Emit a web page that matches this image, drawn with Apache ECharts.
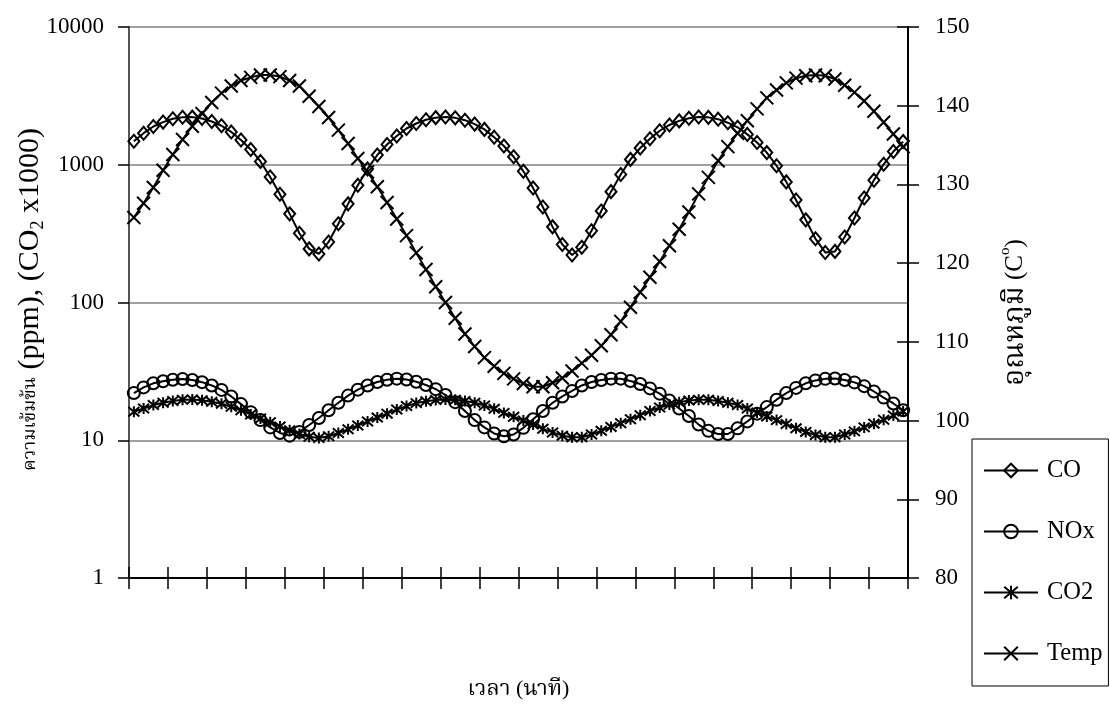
<!DOCTYPE html>
<html>
<head>
<meta charset="utf-8">
<script src="https://cdn.jsdelivr.net/npm/echarts@6/dist/echarts.min.js"></script>
<style>
  html, body { margin: 0; padding: 0; background: #fff; }
  #chart { width: 1110px; height: 707px; }
</style>
</head>
<body>
<div id="chart"></div>
<script>
// Sampling instants (minutes)
const minutes = ["1","2","3","4","5","6","7","8","9","10","11","12","13","14","15","16","17","18","19","20",
  "21","22","23","24","25","26","27","28","29","30","31","32","33","34","35","36","37","38","39","40",
  "41","42","43","44","45","46","47","48","49","50","51","52","53","54","55","56","57","58","59","60",
  "61","62","63","64","65","66","67","68","69","70","71","72","73","74","75","76","77","78","79","80"];

// CO concentration, ppm
const coValues = [1483,1695,1895,2040,2155,2213,2217,2166,2061,1920,
  1730,1513,1291,1057,816,610,440,318,245,225,
  275,373,520,709,933,1178,1404,1618,1833,1993,
  2122,2198,2222,2190,2106,1973,1806,1586,1369,1143,
  896,677,494,354,264,221,252,332,462,638,
  849,1094,1323,1544,1765,1944,2082,2178,2220,2208,
  2143,2019,1870,1661,1451,1225,983,751,555,398,
  290,231,235,299,411,573,773,1008,1248,1473];

// NOx concentration, ppm
const noxValues = [22.0,24.2,25.9,26.8,27.5,27.8,27.4,26.4,25.0,23.2,
  20.8,18.3,16.0,14.0,12.4,11.3,10.8,11.5,12.9,14.5,
  16.5,18.7,21.1,23.3,25.0,26.5,27.5,28.0,27.6,26.6,
  25.2,23.5,21.3,18.9,16.3,14.0,12.4,11.2,10.7,11.0,
  12.3,14.2,16.3,18.7,20.8,22.8,25.0,26.5,27.4,28.0,
  28.0,26.9,25.6,23.8,21.8,19.4,17.0,15.0,13.0,11.7,
  11.1,11.1,12.2,13.7,15.6,17.4,19.7,22.0,24.0,25.9,
  27.2,27.9,28.1,27.4,26.3,24.7,22.6,20.4,18.5,16.5];

// CO2 concentration (x1000)
const co2Values = [16.1,17.0,18.0,18.7,19.3,19.7,19.8,19.5,19.0,18.4,
  17.5,16.5,15.4,14.4,13.5,12.6,11.8,11.1,10.6,10.4,
  10.7,11.3,12.0,12.8,13.7,14.6,15.6,16.7,17.7,18.6,
  19.2,19.6,19.8,19.7,19.3,18.7,17.9,16.9,15.8,14.8,
  13.9,13.0,12.1,11.4,10.8,10.5,10.5,11.0,11.7,12.5,
  13.3,14.2,15.2,16.3,17.3,18.2,18.9,19.4,19.7,19.7,
  19.3,18.7,18.0,17.0,15.9,14.9,14.0,13.1,12.2,11.5,
  10.9,10.5,10.5,11.0,11.6,12.4,13.2,14.1,15.1,16.2];

// Temperature, deg C
const tempValues = [125.8,127.6,129.6,131.8,133.8,135.7,137.4,139.0,140.4,141.6,
  142.5,143.2,143.6,143.9,143.9,143.7,143.2,142.5,141.2,139.9,
  138.5,136.9,135.2,133.3,131.6,129.7,127.7,125.6,123.5,121.3,
  119.2,117.0,115.0,113.0,111.0,109.4,108.0,106.9,106.0,105.3,
  104.7,104.3,104.3,104.8,105.4,106.3,107.3,108.3,109.5,110.9,
  112.6,114.4,116.3,118.2,120.2,122.2,124.3,126.5,128.8,130.9,
  133.0,134.8,136.5,138.1,139.6,141.0,142.0,142.9,143.5,143.8,
  143.9,143.8,143.4,142.6,141.7,140.6,139.3,137.9,136.4,134.8];

const seriesNames = ["CO", "NOx", "CO2", "Temp"];
const concTicks = [1, 10, 100, 1000, 10000];
const tempTicks = [80, 90, 100, 110, 120, 130, 140, 150];

const FONT = '"Liberation Serif", "Times New Roman", "Noto Serif Thai", "Noto Sans Thai", serif';
const INK = '#000';

const SYM_CROSS = 'path://M0,0L10,10M10,0L0,10';
const SYM_STAR = 'path://M5,0L5,10M0.7,0.7L9.3,9.3M9.3,0.7L0.7,9.3';

function makeLine(name, data, symbol, size, yAxisIndex) {
  return {
    name: name,
    type: 'line',
    data: data,
    xAxisIndex: 0,
    yAxisIndex: yAxisIndex,
    symbol: symbol,
    symbolSize: size,
    showAllSymbol: true,
    lineStyle: { color: INK, width: 2 },
    itemStyle: { color: 'rgba(255,255,255,0)', borderColor: INK, borderWidth: 2 },
    emphasis: { disabled: true },
    silent: true
  };
}

const chart = echarts.init(document.getElementById('chart'), null, { renderer: 'canvas' });

chart.setOption({
  animation: false,
  backgroundColor: '#fff',
  grid: { left: 129, right: 202, top: 27, bottom: 129, containLabel: false, outerBoundsMode: 'none' },
  legend: {
    data: seriesNames,
    orient: 'vertical',
    left: 972,
    top: 439,
    padding: [19, 6, 20, 11],
    itemGap: 36,
    itemWidth: 54,
    itemHeight: 17,
    borderColor: INK,
    borderWidth: 1,
    selectedMode: false,
    textStyle: { fontFamily: FONT, fontSize: 24.5, lineHeight: 24, color: INK, padding: [0, 0, 0, 4] }
  },
  xAxis: [
    {
      type: 'category',
      data: minutes,
      boundaryGap: true,
      position: 'bottom',
      axisLine: { show: true, lineStyle: { color: INK, width: 2 } },
      axisTick: { show: true, interval: 3, length: 11, lineStyle: { color: INK, width: 1.5 } },
      axisLabel: { show: false },
      splitLine: { show: false },
      name: 'เวลา (นาที)',
      nameLocation: 'middle',
      nameGap: 100,
      nameTextStyle: { fontFamily: FONT, fontSize: 22, color: INK }
    },
    {
      type: 'category',
      data: minutes,
      boundaryGap: true,
      position: 'bottom',
      axisLine: { show: false },
      axisTick: { show: true, inside: true, interval: 3, length: 11, lineStyle: { color: INK, width: 1.5 } },
      axisLabel: { show: false },
      splitLine: { show: false }
    }
  ],
  yAxis: [
    {
      type: 'log',
      logBase: 10,
      min: concTicks[0],
      max: concTicks[concTicks.length - 1],
      position: 'left',
      axisLine: { show: true, lineStyle: { color: '#555', width: 2 } },
      axisTick: { show: true, length: 11, lineStyle: { color: INK, width: 1.5 } },
      axisLabel: {
        margin: 25,
        fontFamily: FONT, fontSize: 23, color: INK,
        formatter: function (v) { return String(Math.round(v)); }
      },
      splitLine: { show: true, lineStyle: { color: '#808080', width: 1.5 } },
      name: '{th|ความเข้มข้น} (ppm), (CO{sub|2} x1000)',
      nameLocation: 'middle',
      nameRotate: 90,
      nameGap: 82,
      nameMoveOverlap: false,
      nameTextStyle: {
        fontFamily: FONT, fontSize: 30, lineHeight: 34, color: INK,
        padding: [0, 0, 0, 6],
        rich: {
          th: { fontFamily: FONT, fontSize: 18.5, lineHeight: 34, color: INK },
          sub: { fontFamily: FONT, fontSize: 18, lineHeight: 18, verticalAlign: 'bottom', color: INK }
        }
      }
    },
    {
      type: 'value',
      min: tempTicks[0],
      max: tempTicks[tempTicks.length - 1],
      interval: 10,
      position: 'right',
      axisLine: { show: true, lineStyle: { color: INK, width: 2 } },
      axisTick: { show: true, length: 11, lineStyle: { color: INK, width: 1.5 } },
      axisLabel: { margin: 27, fontFamily: FONT, fontSize: 23, color: INK },
      splitLine: { show: false },
      name: '{th|อุณหภูมิ} (C{sup|o})',
      nameLocation: 'middle',
      nameRotate: 90,
      nameGap: 90,
      nameTextStyle: {
        fontFamily: FONT, fontSize: 25, lineHeight: 34, color: INK,
        padding: [0, 20, 0, 0],
        rich: {
          th: { fontFamily: FONT, fontSize: 29, lineHeight: 34, color: INK },
          sup: { fontFamily: FONT, fontSize: 15, lineHeight: 15, verticalAlign: 'top', color: INK }
        }
      }
    },
    {
      type: 'value',
      min: tempTicks[0],
      max: tempTicks[tempTicks.length - 1],
      interval: 10,
      position: 'right',
      axisLine: { show: false },
      axisTick: { show: true, inside: true, length: 11, lineStyle: { color: INK, width: 1.5 } },
      axisLabel: { show: false },
      splitLine: { show: false }
    }
  ],
  series: [
    makeLine('CO', coValues, 'diamond', [11, 13], 0),
    makeLine('NOx', noxValues, 'circle', 12, 0),
    makeLine('CO2', co2Values, SYM_STAR, 11, 0),
    makeLine('Temp', tempValues, SYM_CROSS, 13, 1)
  ]
});
</script>
</body>
</html>
